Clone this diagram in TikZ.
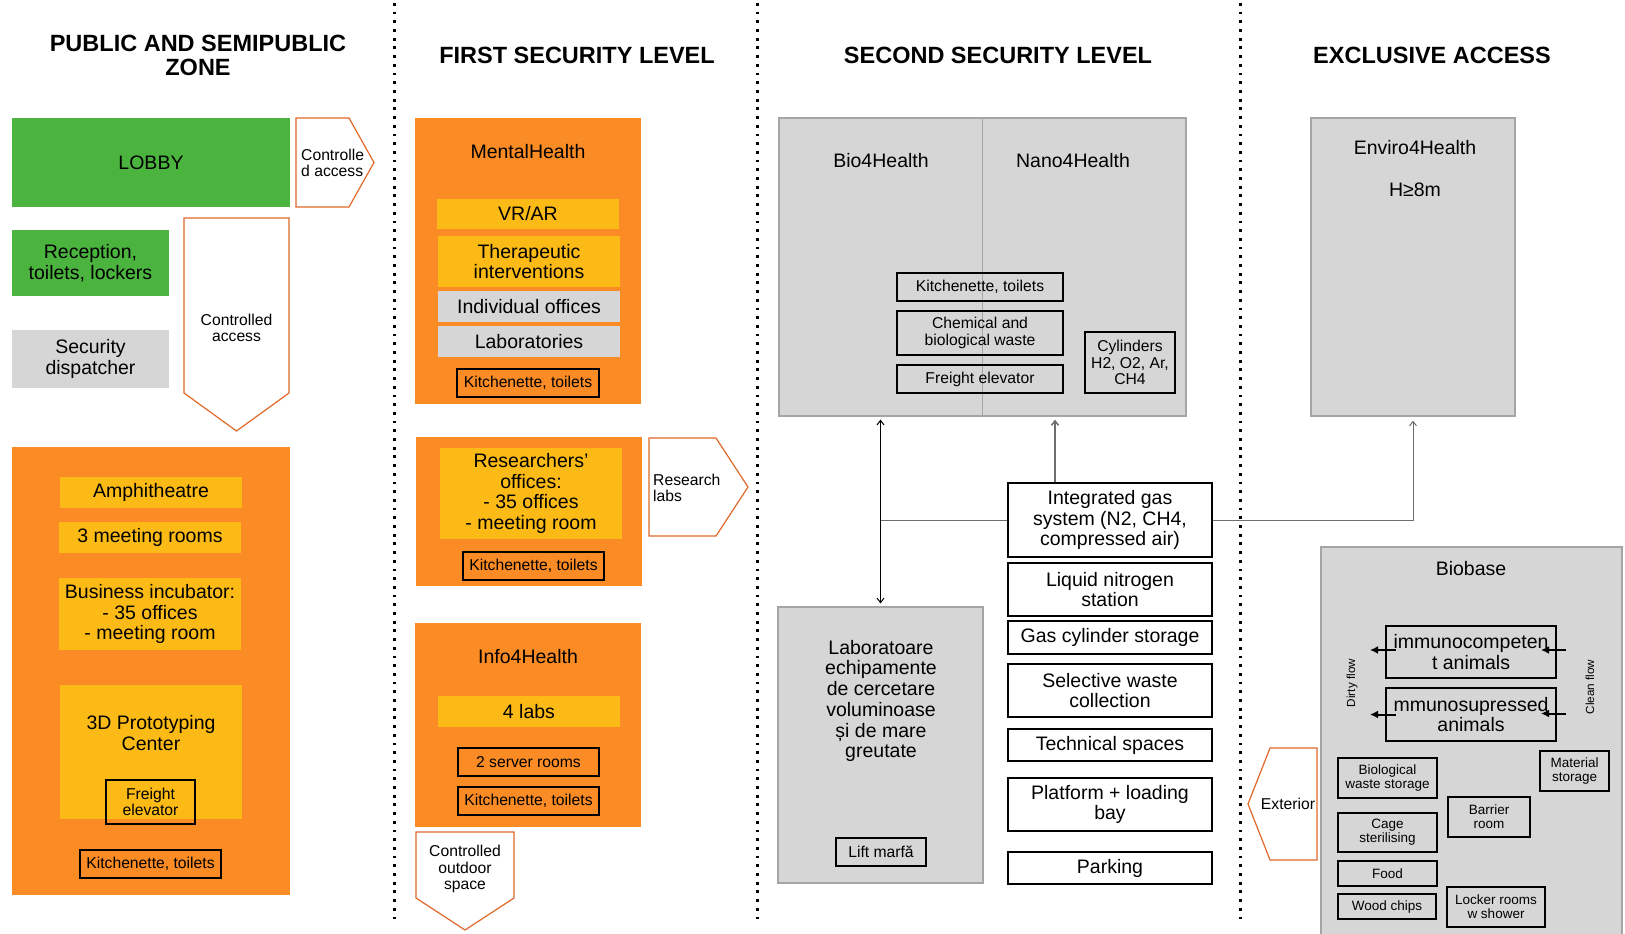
\documentclass[tikz,border=0pt]{standalone}
\usepackage{fontspec}
\setmainfont{Liberation Sans}
\usetikzlibrary{arrows.meta}

\definecolor{zgreen}{RGB}{74,180,62}
\definecolor{zorange}{RGB}{250,139,37}
\definecolor{zyellow}{RGB}{252,186,22}
\definecolor{zgray}{RGB}{214,214,214}
\definecolor{zedge}{RGB}{165,165,165}
\definecolor{zoutline}{RGB}{226,104,42}
\definecolor{zline}{RGB}{110,110,110}

\newcommand\fbig{\fontsize{19.5}{20.7}\selectfont}
\newcommand\fmid{\fontsize{15.7}{16.2}\selectfont}
\newcommand\fsml{\fontsize{13.5}{14}\selectfont}
\newcommand\ftny{\fontsize{11.7}{12}\selectfont}
\newcommand\fhead{\fontsize{23.5}{24}\selectfont\bfseries}

\tikzset{
  area/.style={inner sep=0pt, align=center, text=black},
  green area/.style={area, fill=zgreen, font=\fbig},
  zone/.style={area, fill=zorange},
  room/.style={area, fill=zyellow, font=\fbig},
  grey room/.style={area, fill=zgray, font=\fbig},
  grey block/.style={area, fill=zgray, draw=zedge, line width=1.2pt},
  cell/.style={area, draw=black, line width=2pt, font=\fmid},
  big cell/.style={area, draw=black, line width=2pt, font=\fbig, fill=white},
  small cell/.style={area, draw=black, line width=2pt, font=\fsml},
  label text/.style={inner sep=0pt, align=center, text=black},
  gate/.style={draw=zoutline, line width=1.2pt, fill=white, line join=miter},
  heading/.style={inner sep=0pt, align=center, font=\fhead},
  separator/.style={line width=3pt, dash pattern=on 2.8pt off 5.9pt},
  link/.style={line width=1pt, >={Straight Barb[length=4.5pt,width=7pt]}},
  flow/.style={line width=2pt, -{Latex[length=8pt,width=8pt]}},
}

\begin{document}
\begin{tikzpicture}[x=1pt,y=-1pt]
\useasboundingbox (0,0) rectangle (1625,934);
\clip (0,0) rectangle (1625,934);
\fill[white] (0,0) rectangle (1625,934);

% zone separators
\draw[separator] (394,3) -- (394,922);
\draw[separator] (757,3) -- (757,922);
\draw[separator] (1240,3) -- (1240,922);

% headings
\node[heading] (h1) at (198,55) {PUBLIC AND SEMIPUBLIC\\ZONE};
\node[heading] (h2) at (577,55) {FIRST SECURITY LEVEL};
\node[heading] (h3) at (998,55) {SECOND SECURITY LEVEL};
\node[heading] (h4) at (1432,55) {EXCLUSIVE ACCESS};

% ---------- public and semipublic zone ----------
\node[green area, minimum width=278, minimum height=89] (lobby) at (151,162.5) {LOBBY};
\draw[gate] (296,118) -- (349,118) -- (374,162.5) -- (349,207) -- (296,207) -- cycle;
\node[label text, font=\fmid, align=left, anchor=west] (gate1) at (301,162.5) {Controlle\\d access};

\node[green area, minimum width=157, minimum height=66] (rec) at (90.5,263) {Reception,\\toilets, lockers};
\node[grey room, minimum width=157, minimum height=58] (secd) at (90.5,359) {Security\\dispatcher};

\draw[gate] (184,218) -- (289,218) -- (289,393) -- (236.5,431) -- (184,393) -- cycle;
\node[label text, font=\fmid] (gate2) at (236.5,328) {Controlled\\access};

\node[zone, minimum width=278, minimum height=448] (pub) at (151,671) {};
\node[room, minimum width=182, minimum height=31] (amph) at (151,492.5) {Amphitheatre};
\node[room, minimum width=182, minimum height=31] (meet) at (150,537.5) {3 meeting rooms};
\node[room, minimum width=182, minimum height=72] (incub) at (150,614) {Business incubator:\\- 35 offices\\- meeting room};
\node[room, minimum width=182, minimum height=134] (proto) at (151,752) {};
\node[label text, font=\fbig] (protoname) at (151,733) {3D Prototyping\\Center};
\node[cell, minimum width=89, minimum height=44] (fel1) at (150.5,802) {Freight\\elevator};
\node[cell, minimum width=141, minimum height=28] (kit1) at (150.5,864) {Kitchenette, toilets};

% ---------- first security level ----------
\node[zone, minimum width=226, minimum height=286] (mh) at (528,261) {};
\node[label text, font=\fbig] (mhname) at (528,152) {MentalHealth};
\node[room, minimum width=182, minimum height=30] (vr) at (528,214) {VR/AR};
\node[room, minimum width=182, minimum height=51] (ther) at (529,261.5) {Therapeutic\\interventions};
\node[grey room, minimum width=182, minimum height=31] (indiv) at (529,306.5) {Individual offices};
\node[grey room, minimum width=182, minimum height=31] (labs) at (529,341.5) {Laboratories};
\node[cell, minimum width=142, minimum height=28] (kit2) at (528,383) {Kitchenette, toilets};

\node[zone, minimum width=226, minimum height=149] (res) at (529,511.5) {};
\node[room, minimum width=182, minimum height=91] (resoff) at (531,493.5) {Researchers’\\offices:\\- 35 offices\\- meeting room};
\node[cell, minimum width=141, minimum height=28] (kit3) at (533.5,566) {Kitchenette, toilets};

\draw[gate] (649,438) -- (716,438) -- (748,487) -- (716,536) -- (649,536) -- cycle;
\node[label text, font=\fmid, align=left, anchor=west] (gate3) at (653,488) {Research\\labs};

\node[zone, minimum width=226, minimum height=204] (info) at (528,725) {};
\node[label text, font=\fbig] (infoname) at (528,657) {Info4Health};
\node[room, minimum width=182, minimum height=31] (labs4) at (529,711.5) {4 labs};
\node[cell, minimum width=141, minimum height=28] (srv) at (528.5,762) {2 server rooms};
\node[cell, minimum width=141, minimum height=28] (kit4) at (528.5,801) {Kitchenette, toilets};

\draw[gate] (416,832) -- (514,832) -- (514,898) -- (465,930) -- (416,898) -- cycle;
\node[label text, font=\fmid] (gate4) at (465,869) {Controlled\\outdoor\\space};

% ---------- second security level ----------
\node[grey block, minimum width=407, minimum height=298] (bn) at (982.5,267) {};
\draw[zedge, line width=1.2pt] (bn.north) -- (bn.south);
\node[label text, font=\fbig] (bioname) at (881,161) {Bio4Health};
\node[label text, font=\fbig] (nanoname) at (1073,161) {Nano4Health};
\node[cell, minimum width=166, minimum height=28] (kit5) at (980,287) {Kitchenette, toilets};
\node[cell, minimum width=166, minimum height=44] (chem) at (980,333) {Chemical and\\biological waste};
\node[cell, minimum width=166, minimum height=28] (fel2) at (980,379) {Freight elevator};
\node[cell, minimum width=90, minimum height=61] (cyl) at (1130,362.5) {Cylinders\\H2, O2, Ar,\\CH4};

\node[grey block, minimum width=205, minimum height=276] (labo) at (880.5,745) {};
\node[label text, font=\fbig] (laboname) at (881,701) {Laboratoare\\echipamente\\de cercetare\\voluminoase\\și de mare\\greutate};
\node[cell, minimum width=90, minimum height=28] (lift) at (881,852) {Lift marfă};

\node[big cell, minimum width=204, minimum height=74] (gas) at (1110,520) {Integrated gas\\system (N2, CH4,\\compressed air)};
\node[big cell, minimum width=204, minimum height=53] (ln2) at (1110,589.5) {Liquid nitrogen\\station};
\node[big cell, minimum width=204, minimum height=33] (gcs) at (1110,637.5) {Gas cylinder storage};
\node[big cell, minimum width=204, minimum height=53] (sw) at (1110,690.5) {Selective waste\\collection};
\node[big cell, minimum width=204, minimum height=32] (tech) at (1110,745) {Technical spaces};
\node[big cell, minimum width=204, minimum height=53] (plat) at (1110,804.5) {Platform + loading\\bay};
\node[big cell, minimum width=204, minimum height=32] (park) at (1110,868) {Parking};

% ---------- exclusive access ----------
\node[grey block, minimum width=204, minimum height=298] (env) at (1413,267) {};
\node[label text, font=\fbig] (envname) at (1415,148) {Enviro4Health};
\node[label text, font=\fbig] (envh) at (1415,190) {H≥8m};

\node[grey block, minimum width=301, minimum height=420] (bb) at (1471.5,757) {};
\node[label text, font=\fbig] (bbname) at (1471,569) {Biobase};
\node[big cell, fill=none, minimum width=170, minimum height=52] (imc) at (1471,652) {immunocompeten\\t animals};
\node[big cell, fill=none, minimum width=170, minimum height=53] (ims) at (1471,714.5) {mmunosupressed\\animals};
\node[label text, font=\ftny, rotate=90] (dirty) at (1352,683) {Dirty flow};
\node[label text, font=\ftny, rotate=90] (clean) at (1590,687) {Clean flow};
\node[small cell, minimum width=99, minimum height=40] (bws) at (1387.5,778) {Biological\\waste storage};
\node[small cell, minimum width=99, minimum height=39] (cage) at (1387.5,832.5) {Cage\\sterilising};
\node[small cell, minimum width=99, minimum height=25] (food) at (1387.5,873.5) {Food};
\node[small cell, minimum width=98, minimum height=25] (wood) at (1387,906.5) {Wood chips};
\node[small cell, minimum width=82, minimum height=40] (barr) at (1489,817) {Barrier\\room};
\node[small cell, minimum width=98, minimum height=40] (lock) at (1496,907) {Locker rooms\\w shower};
\node[small cell, minimum width=69, minimum height=40] (mat) at (1574.5,771) {Material\\storage};

\draw[gate] (1317,748) -- (1270,748) -- (1248,804) -- (1270,860) -- (1317,860) -- cycle;
\node[label text, font=\fmid] (gate5) at (1288,804) {Exterior};

% flows through the animal rooms
\draw[flow] ([xshift=11pt,yshift=2pt]imc.west) -- ++(-26,0);
\draw[flow] ([xshift=11pt]ims.west) -- ++(-26,0);
\draw[flow] ([xshift=9pt,yshift=2pt]imc.east) -- ++(-25,0);
\draw[flow] ([xshift=9pt,yshift=1pt]ims.east) -- ++(-25,0);

% supply links
\coordinate (nanox) at (1055,0);
\draw[link, <->, shorten <=3pt, shorten >=3pt] (labo.north) -- (labo.north |- bn.south);
\draw[link, draw=zline] (labo.north |- gas.west) -- (gas.west);
\draw[link, ->, draw=zline, line width=1.5pt, shorten >=3pt] (gas.north -| nanox) -- (nanox |- bn.south);
\draw[link, ->, draw=zline, shorten >=4pt] (gas.east) -| (env.south);
\end{tikzpicture}
\end{document}
